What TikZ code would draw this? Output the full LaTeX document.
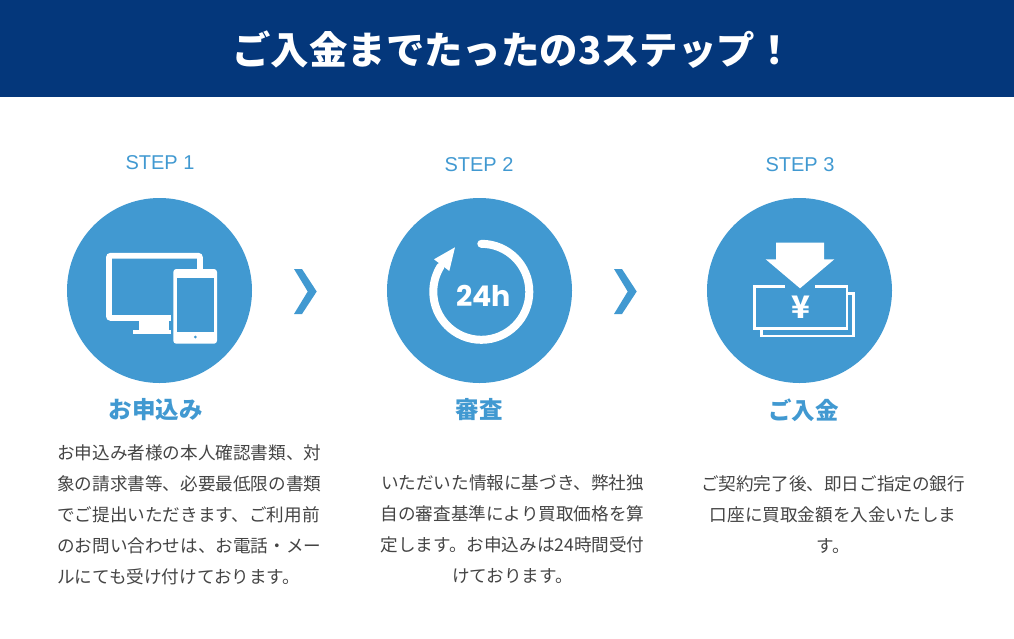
\documentclass[tikz,border=0pt]{standalone}
\usepackage{fontspec}
\setmainfont{Noto Sans CJK JP}
\newfontfamily\stepfont{Liberation Sans}
\newfontfamily\clockfont{Poppins}
\definecolor{bandblue}{HTML}{04377B}
\definecolor{stepblue}{HTML}{4199D1}
\definecolor{bodygray}{HTML}{444444}
\tikzset{
  stepcircle/.style={circle,fill=stepblue,draw=none,minimum size=185pt,inner sep=0pt},
  steplabel/.style={text=stepblue,font=\stepfont\fontsize{20}{24}\selectfont},
  stephead/.style={text=stepblue,font=\bfseries\fontsize{23.5}{28}\selectfont},
  bodytext/.style={text=bodygray,inner sep=0pt,font=\fontsize{17.6}{31}\selectfont},
  chevron/.style={fill=stepblue,draw=none},
  iconline/.style={draw=white,line width=2.7pt},
  iconfill/.style={fill=white,draw=none}
}
\begin{document}
\begin{tikzpicture}[x=1pt,y=-1pt]

\useasboundingbox (0,0) rectangle (1014,638);
\fill [bandblue] (0,0) rectangle (1014,97);
\node (title) at (513,50) {\textcolor{white}{\bfseries\fontsize{38.4}{46}\selectfont ご入金までたったの3ステップ！}};

\node [steplabel] (s1) at (160,162.5) {STEP 1};
\node [steplabel] (s2) at (479,164.5) {STEP 2};
\node [steplabel] (s3) at (800,164.5) {STEP 3};

\node [stepcircle] (c1) at (159.5,290.5) {};
\node [stepcircle] (c2) at (479.5,290.5) {};
\node [stepcircle] (c3) at (799.5,290.5) {};

% chevrons
\fill [chevron] (294,269) -- (302,269) -- (316.7,291.5) -- (302,314) -- (294,314) -- (307.7,291.5) -- cycle;
\fill [chevron] (614,269) -- (622,269) -- (636.7,291.5) -- (622,314) -- (614,314) -- (627.7,291.5) -- cycle;

% monitor
\draw [iconline,line width=5.7pt,rounded corners=2pt] (108.9,255.7) rectangle (200,318);
\fill [iconfill] (139.3,320) rectangle (169.3,330);
\fill [iconfill] (133.3,330) rectangle (175,334.3);
\fill [stepblue] (171,268) rectangle (219,346);
\fill [iconfill,rounded corners=3pt] (173.3,269) rectangle (217,343.7);
\fill [stepblue] (177,278.3) rectangle (213.7,332.3);
\fill [stepblue] (195.3,337) circle (1.5);
\fill [iconfill] (197,258.7) rectangle (202.7,269);

% clock
\coordinate (ringstart) at (481.3,243.8);
\draw [white,line width=8pt,line cap=round] (ringstart) arc [start angle=90,end angle=-212,radius=48pt];
\fill [iconfill] (455,247.3) -- (434,259.3) -- (449.3,271) -- cycle;
\node [inner sep=0pt,text=white] (clock) at (483.4,296) {\clockfont\bfseries\fontsize{28.5}{34}\selectfont 24h};

% yen
\fill [iconfill] (776,242.7) -- (824,242.7) -- (824,259.3) -- (834.3,259.3) -- (800,288.3) -- (765.7,259.3) -- (776,259.3) -- cycle;
\draw [iconline] (784.7,286.4) -- (754.7,286.4) -- (754.7,328.6) -- (847,328.6) -- (847,286.4) -- (815.3,286.4);
\draw [iconline] (848,293.7) -- (853.7,293.7) -- (853.7,336) -- (761.3,336) -- (761.3,330);
\node [inner sep=0pt,text=white] (yen) at (800.5,307) {\bfseries\fontsize{31}{36}\selectfont ¥};

\node [stephead] (h1) at (155.5,410) {お申込み};
\node [stephead] (h2) at (479,410) {審査};
\node [stephead] (h3) at (803.5,410) {ご入金};

\node [bodytext,align=left,anchor=north west] (b1) at (57,444) {お申込み者様の本人確認書類、対\\象の請求書等、必要最低限の書類\\でご提出いただきます、ご利用前\\のお問い合わせは、お電話・メー\\ルにても受け付けております。};
\node [bodytext,align=center,anchor=north] (b2) at (512.5,475) {いただいた情報に基づき、弊社独\\自の審査基準により買取価格を算\\定します。お申込みは24時間受付\\けております。};
\node [bodytext,align=center,anchor=north] (b3) at (833,475) {ご契約完了後、即日ご指定の銀行\\口座に買取金額を入金いたしま\\す。};

\end{tikzpicture}
\end{document}
